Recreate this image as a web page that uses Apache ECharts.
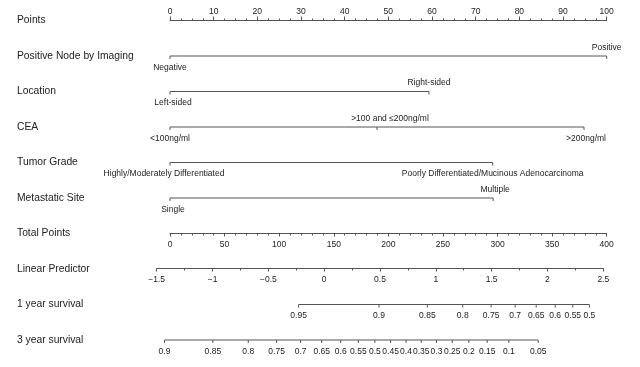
<!DOCTYPE html>
<html><head><meta charset="utf-8">
<script src="https://cdn.jsdelivr.net/npm/echarts@6/dist/echarts.min.js"></script>
<style>html,body{margin:0;padding:0;background:#fff}#c{width:640px;height:367px}</style>
</head><body><div id="c"></div>
<script>
// ---------- data ----------
const rowTitles = ['Points','Positive Node by Imaging','Location','CEA','Tumor Grade','Metastatic Site','Total Points','Linear Predictor','1 year survival','3 year survival'];

const nodeLevels = ['Negative','Positive'];
const nodePoints = [0, 100];
const nodeSides = ['bottom','top'];

const locationLevels = ['Left-sided','Right-sided'];
const locationPoints = [0, 59.3];
const locationSides = ['bottom','top'];

const ceaLevels = ['<100ng/ml','>100 and \u2264200ng/ml','>200ng/ml'];
const ceaPoints = [0, 47.4, 94.8];
const ceaSides = ['bottom','top','bottom'];

const gradeLevels = ['Highly/Moderately Differentiated','Poorly Differentiated/Mucinous Adenocarcinoma'];
const gradePoints = [0, 73.9];
const gradeSides = ['bottom','bottom'];

const siteLevels = ['Single','Multiple'];
const sitePoints = [0, 74.0];
const siteSides = ['bottom','top'];

const pointsRange = [0, 100, 10];
const totalRange = [0, 400, 50];
const lpRange = [-1.5, 2.5, 0.5];

// survival scales: label and position on the linear predictor scale
const surv1Labels = ['0.95','0.9','0.85','0.8','0.75','0.7','0.65','0.6','0.55','0.5'];
const surv1LP = [-0.229, 0.491, 0.924, 1.241, 1.495, 1.710, 1.899, 2.069, 2.227, 2.375];
const surv3Labels = ['0.9','0.85','0.8','0.75','0.7','0.65','0.6','0.55','0.5','0.45','0.4','0.35','0.3','0.25','0.2','0.15','0.1','0.05'];
const surv3LP = [-1.430, -0.997, -0.680, -0.426, -0.211, -0.022, 0.148, 0.306, 0.454, 0.595, 0.733, 0.869, 1.006, 1.147, 1.296, 1.460, 1.654, 1.917];

// ---------- style ----------
const LINE = '#555';
const TEXT = '#222';
const FONT = 'Liberation Sans, Arial, sans-serif';
const TICK_FS = 8.5;
const TITLE_FS = 10.3;

function scaleSeries(xIdx, yIdx, row, positions, labels, sides, offsets) {
  return {
    type: 'custom', xAxisIndex: xIdx, yAxisIndex: yIdx, silent: true,
    data: positions.map((p, i) => [p, row, i]),
    renderItem(params, api) {
      const i = api.value(2);
      const c = api.coord([api.value(0), api.value(1)]);
      const children = [];
      if (i === 0) {
        const e = api.coord([positions[positions.length - 1], row]);
        children.push({type: 'line', shape: {x1: c[0], y1: c[1], x2: e[0], y2: e[1]},
          style: {stroke: LINE, lineWidth: 1}});
      }
      children.push({type: 'line', shape: {x1: c[0], y1: c[1], x2: c[0], y2: c[1] + 3},
        style: {stroke: LINE, lineWidth: 1}});
      const side = sides ? sides[i] : 'bottom';
      const off = offsets ? offsets[i] : 0;
      children.push({type: 'text', x: c[0] + off, y: side === 'top' ? c[1] - 4 : c[1] + 7,
        style: {text: labels[i], align: 'center', verticalAlign: side === 'top' ? 'bottom' : 'top',
          fontSize: TICK_FS, fill: TEXT, fontFamily: FONT}});
      return {type: 'group', children};
    }
  };
}

function realAxis(gridIndex, range, pos, minorSplit, margin, fmt) {
  return {
    gridIndex, type: 'value', position: pos, min: range[0], max: range[1], interval: range[2],
    axisLine: {show: true, lineStyle: {color: LINE, width: 1}},
    axisTick: {show: true, length: pos === 'top' ? 4 : 3, lineStyle: {color: LINE}},
    minorTick: {show: true, splitNumber: minorSplit, length: 2, lineStyle: {color: LINE}},
    splitLine: {show: false}, minorSplitLine: {show: false},
    axisLabel: {fontSize: TICK_FS, color: TEXT, fontFamily: FONT, margin, formatter: fmt,
      showMinLabel: true, showMaxLabel: true}
  };
}

const chart = echarts.init(document.getElementById('c'), null, {renderer: 'canvas'});
chart.setOption({
  animation: false,
  backgroundColor: '#fff',
  grid: [
    {left: 170, right: 33.3, top: 20.5, height: 319.5},
    {left: 156.7, right: 36.7, top: 20.5, height: 319.5},
    {left: 170, right: 33.3, top: 20.5, height: 0},
    {left: 170, right: 33.3, top: 233.5, height: 0},
    {left: 156.7, right: 36.7, top: 268.5, height: 0}
  ],
  xAxis: [
    {gridIndex: 0, type: 'value', min: 0, max: 100, show: false, splitLine: {show: false}},
    {gridIndex: 1, type: 'value', min: lpRange[0], max: lpRange[1], show: false, splitLine: {show: false}},
    realAxis(2, pointsRange, 'top', 4, 4),
    realAxis(3, totalRange, 'bottom', 5, 7),
    realAxis(4, lpRange, 'bottom', 2, 7, v => (v < 0 ? '\u2212' + String(-v) : String(v)))
  ],
  yAxis: [
    {gridIndex: 0, type: 'category', data: rowTitles, inverse: true, boundaryGap: false,
      axisLine: {show: false}, axisTick: {show: false}, splitLine: {show: false},
      axisLabel: {align: 'left', margin: 153, fontSize: TITLE_FS, color: TEXT, fontFamily: FONT, interval: 0}},
    {gridIndex: 1, type: 'category', data: rowTitles, inverse: true, boundaryGap: false, show: false},
    {gridIndex: 2, type: 'value', show: false, splitLine: {show: false}},
    {gridIndex: 3, type: 'value', show: false, splitLine: {show: false}},
    {gridIndex: 4, type: 'value', show: false, splitLine: {show: false}}
  ],
  series: [
    scaleSeries(0, 0, 1, nodePoints, nodeLevels, nodeSides),
    scaleSeries(0, 0, 2, locationPoints, locationLevels, locationSides, [3, 0]),
    scaleSeries(0, 0, 3, ceaPoints, ceaLevels, ceaSides, [0, 13, 2]),
    scaleSeries(0, 0, 4, gradePoints, gradeLevels, gradeSides, [-6, 0]),
    scaleSeries(0, 0, 5, sitePoints, siteLevels, siteSides, [3, 2]),
    scaleSeries(1, 1, 8, surv1LP, surv1Labels),
    scaleSeries(1, 1, 9, surv3LP, surv3Labels)
  ]
});
</script></body></html>
